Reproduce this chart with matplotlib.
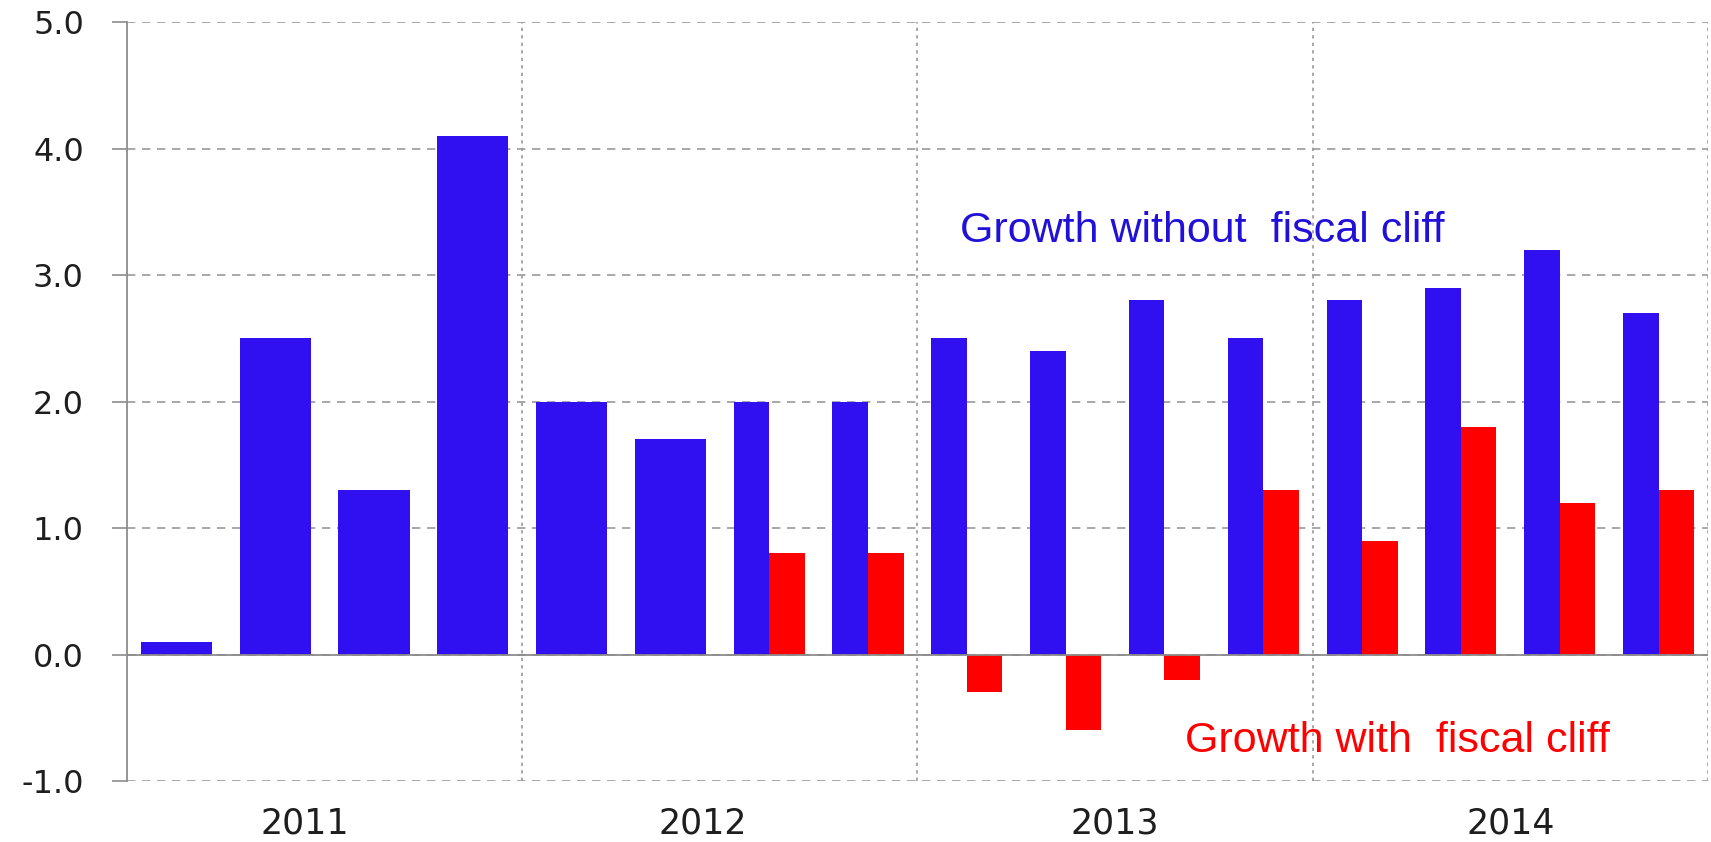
import numpy as np
import matplotlib
matplotlib.use("Agg")
import matplotlib.pyplot as plt
import matplotlib.transforms as mtrans

# Quarterly real GDP growth, %
years = ["2011", "2012", "2013", "2014"]
growth_without_cliff = [0.1, 2.5, 1.3, 4.1,
                        2.0, 1.7, 2.0, 2.0,
                        2.5, 2.4, 2.8, 2.5,
                        2.8, 2.9, 3.2, 2.7]
growth_with_cliff = [np.nan, np.nan, np.nan, np.nan,
                     np.nan, np.nan, 0.8, 0.8,
                     -0.3, -0.6, -0.2, 1.3,
                     0.9, 1.8, 1.2, 1.3]
y_ticks = [-1.0, 0.0, 1.0, 2.0, 3.0, 4.0, 5.0]

BLUE = "#3010F0"
RED = "#FF0000"
GRID = "#9a9a9a"
AXIS = "#8c8c8c"

fig = plt.figure(figsize=(17.11, 8.42), dpi=100)
ax = fig.add_axes([0.0742, 0.0724, 0.9240, 0.9014])

x = np.arange(len(growth_without_cliff))
wide = 0.72
half = 0.36
for xi, b, r in zip(x, growth_without_cliff, growth_with_cliff):
    if np.isnan(r):
        ax.bar(xi, b, width=wide, color=BLUE, zorder=3)
    else:
        ax.bar(xi - half / 2, b, width=half, color=BLUE, zorder=3)
        ax.bar(xi + half / 2, r, width=half, color=RED, zorder=3)

ax.set_xlim(-0.5, 15.5)
ax.set_ylim(-1.0, 5.0)

# horizontal dashed grid
for yv in y_ticks:
    ax.axhline(yv, color=GRID, lw=1.2, ls=(0, (5, 4)), zorder=1)
# year separators and right border
for xv in [3.5, 7.5, 11.5, 15.5]:
    ax.axvline(xv, color=GRID, lw=1.2, ls=(0, (2, 2.5)), zorder=1)
# zero line
ax.axhline(0, color=AXIS, lw=1.3, zorder=4)

for side in ["top", "right", "bottom"]:
    ax.spines[side].set_visible(False)
ax.spines["left"].set_color(AXIS)
ax.spines["left"].set_linewidth(1.3)

ax.set_yticks(y_ticks)
ax.set_yticklabels([f"{v:.1f}" for v in y_ticks])
ax.tick_params(axis="y", length=11, width=1.2, color=AXIS, pad=20,
               labelsize=23, labelcolor="#1e1e1e")

ax.set_xticks([1.5, 5.5, 9.5, 13.5])
ax.set_xticklabels(years)
ax.tick_params(axis="x", length=0, pad=18, labelsize=25, labelcolor="#1e1e1e")
# the first two year labels sit slightly left of their group centres
for lbl, dx in zip(ax.get_xticklabels(), [-14, -12, 0, 0]):
    lbl.set_transform(lbl.get_transform() +
                      mtrans.ScaledTranslation(dx / 72, 0, fig.dpi_scale_trans))

ax.text(7.93, 3.26, "Growth without  fiscal cliff", color="#2010D8",
        fontsize=31, family="Liberation Sans", ha="left", va="baseline", zorder=5)
ax.text(10.21, -0.77, "Growth with  fiscal cliff", color=RED,
        fontsize=31, family="Liberation Sans", ha="left", va="baseline", zorder=5)

fig.savefig("out.png", dpi=100)
